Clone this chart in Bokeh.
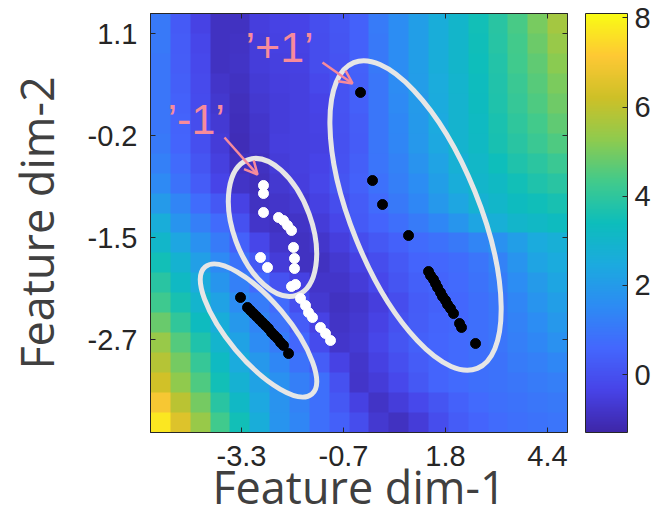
import numpy as np
from bokeh.plotting import figure
from bokeh.models import (LinearColorMapper, ColorBar, FixedTicker, Range1d,
                          LinearAxis, Arrow, OpenHead)
from bokeh.core.properties import value
from bokeh.embed import file_html
from bokeh.resources import INLINE

# ---------------- data ----------------
x_tick_values = [-3.3, -0.74, 1.82, 4.38]
x_tick_labels = ["-3.3", "-0.7", "1.8", "4.4"]
y_tick_values = [1.1, -0.18, -1.46, -2.74]
y_tick_labels = ["1.1", "-0.2", "-1.5", "-2.7"]
cbar_ticks = [0, 2, 4, 6, 8]
x_limits = [-5.584, 4.882]
y_limits = [-3.907, 1.351]
value_limits = [-1.3, 8.1]
x_title = "Feature dim-1"
y_title = "Feature dim-2"

# background surface, estimated cell by cell (rows listed top -> bottom)
heat_rows = [
    [1.05, 0.25, -0.4, -0.92, -0.9, -0.5, -0.41, -0.35, -0.07, 0.14, 0.45, 1.1, 1.6, 2.1, 2.6, 3.0, 3.5, 3.9, 4.4, 5.0, 5.6],
    [1.05, 0.3, -0.3, -0.9, -0.87, -0.53, -0.45, -0.4, -0.1, 0.1, 0.45, 1.05, 1.6, 2.1, 2.6, 3.0, 3.45, 3.85, 4.35, 4.85, 5.4],
    [1.0, 0.33, -0.23, -0.9, -0.83, -0.55, -0.49, -0.45, -0.12, 0.08, 0.45, 1.05, 1.6, 2.1, 2.6, 3.0, 3.4, 3.8, 4.3, 4.7, 5.2],
    [1.0, 0.38, -0.19, -0.82, -0.92, -0.63, -0.52, -0.47, -0.23, 0.08, 0.42, 1.0, 1.55, 2.05, 2.55, 2.95, 3.35, 3.75, 4.2, 4.6, 5.05],
    [0.98, 0.43, -0.15, -0.73, -1.0, -0.7, -0.55, -0.46, -0.35, 0.08, 0.4, 1.0, 1.5, 2.0, 2.5, 2.9, 3.3, 3.7, 4.1, 4.5, 4.9],
    [1.0, 0.47, -0.1, -0.67, -1.03, -0.75, -0.53, -0.47, -0.4, 0.04, 0.35, 1.0, 1.45, 1.95, 2.45, 2.9, 3.25, 3.65, 4.0, 4.35, 4.7],
    [1.05, 0.5, -0.05, -0.6, -1.07, -0.8, -0.5, -0.48, -0.45, 0.0, 0.3, 1.0, 1.4, 1.9, 2.4, 2.9, 3.2, 3.6, 3.9, 4.2, 4.5],
    [1.25, 0.7, 0.12, -0.46, -0.95, -0.9, -0.6, -0.49, -0.38, 0.05, 0.38, 0.95, 1.3, 1.75, 2.25, 2.75, 3.1, 3.4, 3.7, 3.95, 4.2],
    [1.5, 0.9, 0.3, -0.33, -0.83, -1.0, -0.7, -0.5, -0.3, 0.1, 0.45, 0.85, 1.2, 1.6, 2.1, 2.6, 3.0, 3.2, 3.5, 3.7, 3.9],
    [2.0, 1.35, 0.75, 0.2, -0.4, -0.9, -0.8, -0.7, -0.45, -0.1, 0.3, 0.7, 1.05, 1.45, 1.9, 2.35, 2.8, 3.05, 3.3, 3.45, 3.6],
    [2.6, 1.8, 1.2, 0.7, 0.0, -0.8, -0.9, -0.85, -0.6, -0.3, 0.25, 0.5, 0.8, 1.1, 1.45, 1.85, 2.3, 2.7, 3.0, 3.15, 3.3],
    [3.05, 2.35, 1.7, 1.1, 0.45, -0.3, -0.75, -0.9, -0.75, -0.5, -0.1, 0.2, 0.45, 0.7, 0.85, 1.05, 1.35, 1.7, 2.1, 2.5, 2.7],
    [3.5, 2.85, 2.15, 1.5, 0.9, 0.17, -0.57, -0.9, -0.9, -0.7, -0.45, -0.1, 0.22, 0.5, 0.6, 0.75, 0.95, 1.3, 1.8, 2.28, 2.5],
    [3.9, 3.2, 2.55, 1.85, 1.25, 0.65, 0.05, -0.45, -0.8, -0.8, -0.6, -0.25, 0.1, 0.4, 0.5, 0.65, 0.9, 1.15, 1.6, 2.0, 2.3],
    [4.25, 3.6, 2.95, 2.2, 1.6, 1.16, 0.7, -0.03, -0.68, -0.9, -0.75, -0.5, -0.1, 0.3, 0.45, 0.6, 0.8, 1.0, 1.4, 1.8, 2.1],
    [4.8, 4.05, 3.3, 2.6, 1.9, 1.35, 0.93, 0.3, -0.4, -0.85, -0.7, -0.4, 0.0, 0.35, 0.5, 0.6, 0.8, 0.95, 1.3, 1.6, 1.9],
    [5.4, 4.55, 3.7, 2.95, 2.2, 1.56, 1.16, 0.6, -0.15, -0.78, -0.65, -0.3, 0.1, 0.4, 0.55, 0.65, 0.8, 0.95, 1.2, 1.45, 1.7],
    [5.85, 4.95, 4.1, 3.25, 2.5, 1.9, 1.45, 0.9, 0.35, -0.4, -0.75, -0.45, -0.05, 0.3, 0.5, 0.65, 0.8, 0.9, 1.1, 1.25, 1.45],
    [6.3, 5.3, 4.5, 3.5, 2.8, 2.2, 1.7, 1.2, 0.8, 0.0, -0.8, -0.6, -0.2, 0.2, 0.5, 0.65, 0.8, 0.9, 1.0, 1.1, 1.2],
    [7.0, 5.9, 4.95, 3.9, 3.15, 2.4, 1.75, 1.3, 0.8, 0.2, -0.45, -0.85, -0.55, -0.2, 0.1, 0.45, 0.65, 0.8, 0.9, 1.0, 1.05],
    [7.7, 6.5, 5.4, 4.3, 3.5, 2.6, 1.8, 1.4, 0.8, 0.4, -0.1, -0.7, -0.9, -0.6, -0.1, 0.3, 0.5, 0.7, 0.8, 0.9, 0.95],
]

# '+1' class points (right group) and the second black group (lower left)
black_x = [-0.313, -0.012, 0.239, 0.892, 1.394, 1.444, 1.519, 1.57, 1.62, 1.695,
           1.745, 1.821, 1.871, 1.946, 2.021, 2.172, 2.222, 2.574,
           -3.325, -3.149, -3.074, -2.999, -2.923, -2.848, -2.773, -2.697,
           -2.622, -2.547, -2.472, -2.396, -2.321, -2.246, -2.12]
black_y = [0.36, -0.745, -1.046, -1.435, -1.887, -1.937, -1.987, -2.037, -2.087, -2.15,
           -2.2, -2.25, -2.301, -2.351, -2.414, -2.539, -2.589, -2.79,
           -2.213, -2.338, -2.376, -2.414, -2.451, -2.489, -2.527, -2.564,
           -2.602, -2.652, -2.69, -2.727, -2.777, -2.815, -2.916]

# '-1' class points (white)
white_x = [-2.748, -2.748, -2.748, -2.371, -2.246, -2.145, -2.045, -1.995, -1.97,
           -1.97, -2.045, -1.944, -2.823, -2.647, -1.819, -1.693, -1.618, -1.518,
           -1.317, -1.191, -1.066]
white_y = [-0.807, -0.908, -1.146, -1.209, -1.247, -1.309, -1.372, -1.585, -1.723,
           -1.849, -2.075, -2.05, -1.711, -1.836, -2.225, -2.313, -2.401, -2.464,
           -2.589, -2.665, -2.752]

annot_texts = ["\u2019+1\u2019", "\u2019-1\u2019"]
annot_x = [-3.199, -5.157]
annot_y = [0.93, 0.03]

# ---------------- style ----------------
parula_stops = [
    (0.2422, 0.1504, 0.6603), (0.2794, 0.2653, 0.9094), (0.2647, 0.4030, 0.9935),
    (0.1768, 0.5452, 0.9560), (0.1085, 0.6669, 0.8734), (0.0504, 0.7423, 0.7359),
    (0.2589, 0.7937, 0.5454), (0.5609, 0.7943, 0.3050), (0.8060, 0.7529, 0.1546),
    (0.9957, 0.7856, 0.2053), (0.9769, 0.9839, 0.0805)]
stops = np.array(parula_stops)
tt = np.linspace(0, 1, len(stops))
palette = []
for t in np.linspace(0, 1, 256):
    rgb = [np.interp(t, tt, stops[:, k]) for k in range(3)]
    palette.append("#%02x%02x%02x" % tuple(int(round(c * 255)) for c in rgb))

pink = "#f78b9b"
ring = "#e6e6e6"
dark = "#262626"
title_color = "#404040"
tick_font = "Liberation Sans"
label_font = "Open Sans"

p = figure(width=653, height=521, output_backend="svg", toolbar_location=None,
           x_range=Range1d(*x_limits), y_range=Range1d(*y_limits),
           min_border_left=150, min_border_right=86, min_border_top=13,
           min_border_bottom=89)
p.grid.visible = False
p.outline_line_color = dark
p.outline_line_width = 1
p.background_fill_color = "white"

mapper = LinearColorMapper(palette=palette, low=value_limits[0], high=value_limits[1])
img = np.array(heat_rows, dtype=float)[::-1]
p.image(image=[img], x=x_limits[0], y=y_limits[0],
        dw=x_limits[1] - x_limits[0], dh=y_limits[1] - y_limits[0],
        color_mapper=mapper)

# ellipses (centre in data units, size in screen pixels)
ell_x = [1.068, -2.522, -2.873]
ell_y = [-1.184, -1.334, -2.627]
ell_w = [128, 78, 60]
ell_h = [330, 144, 166]
ell_a = [np.radians(22), np.radians(20), np.radians(40)]
p.ellipse(x=ell_x, y=ell_y, width=ell_w, height=ell_h, angle=ell_a,
          width_units="screen", height_units="screen",
          fill_alpha=0, line_color=ring, line_width=5)

p.scatter(black_x, black_y, size=10, color="black")
p.scatter(white_x, white_y, size=10, color="white")

p.text(x=annot_x, y=annot_y, text=annot_texts, text_font=value(tick_font),
       text_font_size="43px", text_color=pink, text_baseline="alphabetic",
       text_align="left")
p.add_layout(Arrow(end=OpenHead(size=13, line_color=pink, line_width=2.5),
                   x_start=-1.267, y_start=0.736, x_end=-0.514, y_end=0.473,
                   line_color=pink, line_width=2.5))
p.add_layout(Arrow(end=OpenHead(size=13, line_color=pink, line_width=2.5),
                   x_start=-3.727, y_start=-0.205, x_end=-2.898, y_end=-0.669,
                   line_color=pink, line_width=2.5))

# axes
for ax, ticks, labels in ((p.xaxis[0], x_tick_values, x_tick_labels),
                          (p.yaxis[0], y_tick_values, y_tick_labels)):
    ax.ticker = FixedTicker(ticks=ticks)
    ax.major_label_overrides = {t: l for t, l in zip(ticks, labels)}
    ax.minor_tick_line_color = None
    ax.major_tick_in = 5
    ax.major_tick_out = 0
    ax.major_tick_line_color = dark
    ax.axis_line_color = dark
    ax.major_label_text_font = tick_font
    ax.major_label_text_font_size = "29px"
    ax.major_label_text_color = dark
    ax.axis_label_text_font = label_font
    ax.axis_label_text_font_size = "45px"
    ax.axis_label_text_font_style = "normal"
    ax.axis_label_text_color = title_color
p.xaxis.axis_label = x_title
p.yaxis.axis_label = y_title
p.xaxis.major_label_standoff = 13
p.xaxis.axis_label_standoff = -13
p.yaxis.major_label_standoff = 13
p.yaxis.axis_label_standoff = 18

for ticks, side in ((x_tick_values, "above"), (y_tick_values, "right")):
    mirror = LinearAxis(ticker=FixedTicker(ticks=ticks), major_tick_in=5,
                        major_tick_out=0, minor_tick_line_color=None,
                        axis_line_color=dark, major_tick_line_color=dark,
                        major_label_standoff=0,
                        major_label_overrides={t: "" for t in ticks})
    p.add_layout(mirror, side)

cbar = ColorBar(color_mapper=mapper, ticker=FixedTicker(ticks=cbar_ticks),
                width=42, height=419, location=(435, 0), padding=0,
                border_line_color=None, background_fill_alpha=0,
                bar_line_color=dark, bar_line_width=1,
                major_tick_in=5, major_tick_out=0, major_tick_line_color=dark,
                minor_tick_line_color=None, label_standoff=7,
                major_label_text_font=tick_font, major_label_text_font_size="29px",
                major_label_text_color=dark)
p.add_layout(cbar, "center")

open("out.html", "w").write(file_html(p, INLINE))
